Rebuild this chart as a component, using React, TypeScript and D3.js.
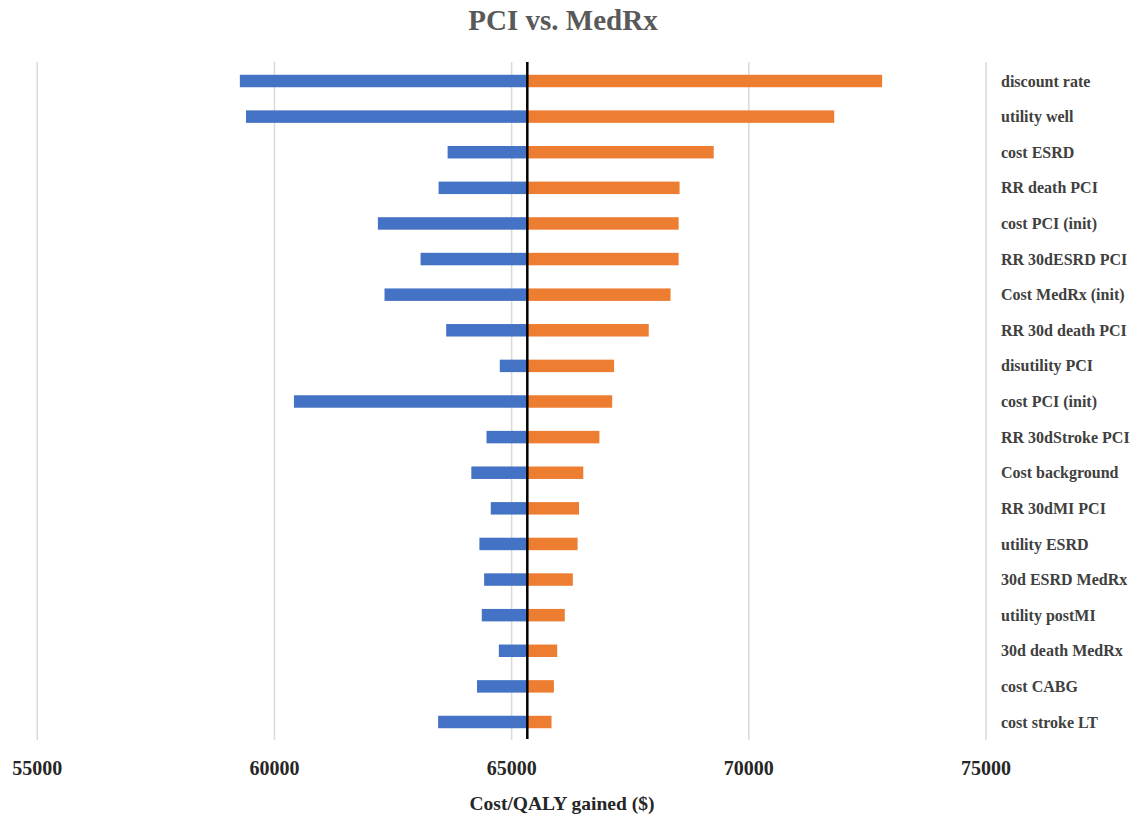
import * as d3 from "d3";

const categories = [
  "discount rate",
  "utility well",
  "cost ESRD",
  "RR death PCI",
  "cost PCI (init)",
  "RR 30dESRD PCI",
  "Cost MedRx (init)",
  "RR 30d death PCI",
  "disutility PCI",
  "cost PCI (init) ",
  "RR 30dStroke PCI",
  "Cost background",
  "RR 30dMI PCI",
  "utility ESRD",
  "30d ESRD MedRx",
  "utility postMI",
  "30d death MedRx",
  "cost CABG",
  "cost stroke LT",
];

// low / high cost per QALY for each parameter
const lowValues = [
  59270, 59400, 63650, 63460, 62180, 63080, 62320, 63620, 64750, 60410,
  64470, 64150, 64560, 64320, 64420, 64370, 64730, 64270, 63450,
];
const highValues = [
  72810, 71800, 69260, 68540, 68520, 68520, 68350, 67890, 67160, 67120,
  66850, 66510, 66420, 66390, 66290, 66120, 65960, 65890, 65840,
];

const baseCase = 65330;
const tickValues = [55000, 60000, 65000, 70000, 75000];

const W = 1130;
const H = 817;
const font = "'Liberation Serif', 'Times New Roman', serif";

export default function App() {
  const x = d3.scaleLinear().domain([55000, 75000]).range([37.3, 986]);
  const y = d3
    .scaleBand<string>()
    .domain(categories)
    .range([63.2, 739.8])
    .paddingInner(0.65)
    .paddingOuter(0.325);

  const top = 62;
  const bottom = 740;

  return (
    <svg
      width={W}
      height={H}
      style={{ position: "absolute", left: 0, top: 0, background: "#fff" }}
      fontFamily={font}
    >
      <text
        x={563}
        y={30}
        textAnchor="middle"
        fontSize={29}
        fontWeight="bold"
        fill="#595959"
      >
        PCI vs. MedRx
      </text>

      {/* gridlines */}
      {tickValues.map((t) => (
        <line
          key={t}
          x1={x(t)}
          x2={x(t)}
          y1={top}
          y2={bottom}
          stroke="#d9d9d9"
          strokeWidth={1.5}
        />
      ))}

      {/* bars */}
      {categories.map((c, i) => (
        <g key={c}>
          <rect
            x={x(lowValues[i])}
            y={y(c)}
            width={x(baseCase) - x(lowValues[i])}
            height={y.bandwidth()}
            fill="#4472C4"
          />
          <rect
            x={x(baseCase)}
            y={y(c)}
            width={x(highValues[i]) - x(baseCase)}
            height={y.bandwidth()}
            fill="#ED7D31"
          />
          <text
            x={1001}
            y={(y(c) ?? 0) + y.bandwidth() / 2}
            dy="0.35em"
            fontSize={16}
            fontWeight="bold"
            fill="#404040"
          >
            {c.trim()}
          </text>
        </g>
      ))}

      {/* base case line */}
      <line
        x1={x(baseCase)}
        x2={x(baseCase)}
        y1={top}
        y2={bottom - 1}
        stroke="#000"
        strokeWidth={2.5}
      />

      {/* tick labels */}
      {tickValues.map((t) => (
        <text
          key={t}
          x={x(t)}
          y={775}
          textAnchor="middle"
          fontSize={20}
          fontWeight="bold"
          fill="#262626"
        >
          {t}
        </text>
      ))}

      <text
        x={562}
        y={810}
        textAnchor="middle"
        fontSize={19.5}
        fontWeight="bold"
        fill="#262626"
      >
        Cost/QALY gained ($)
      </text>
    </svg>
  );
}
